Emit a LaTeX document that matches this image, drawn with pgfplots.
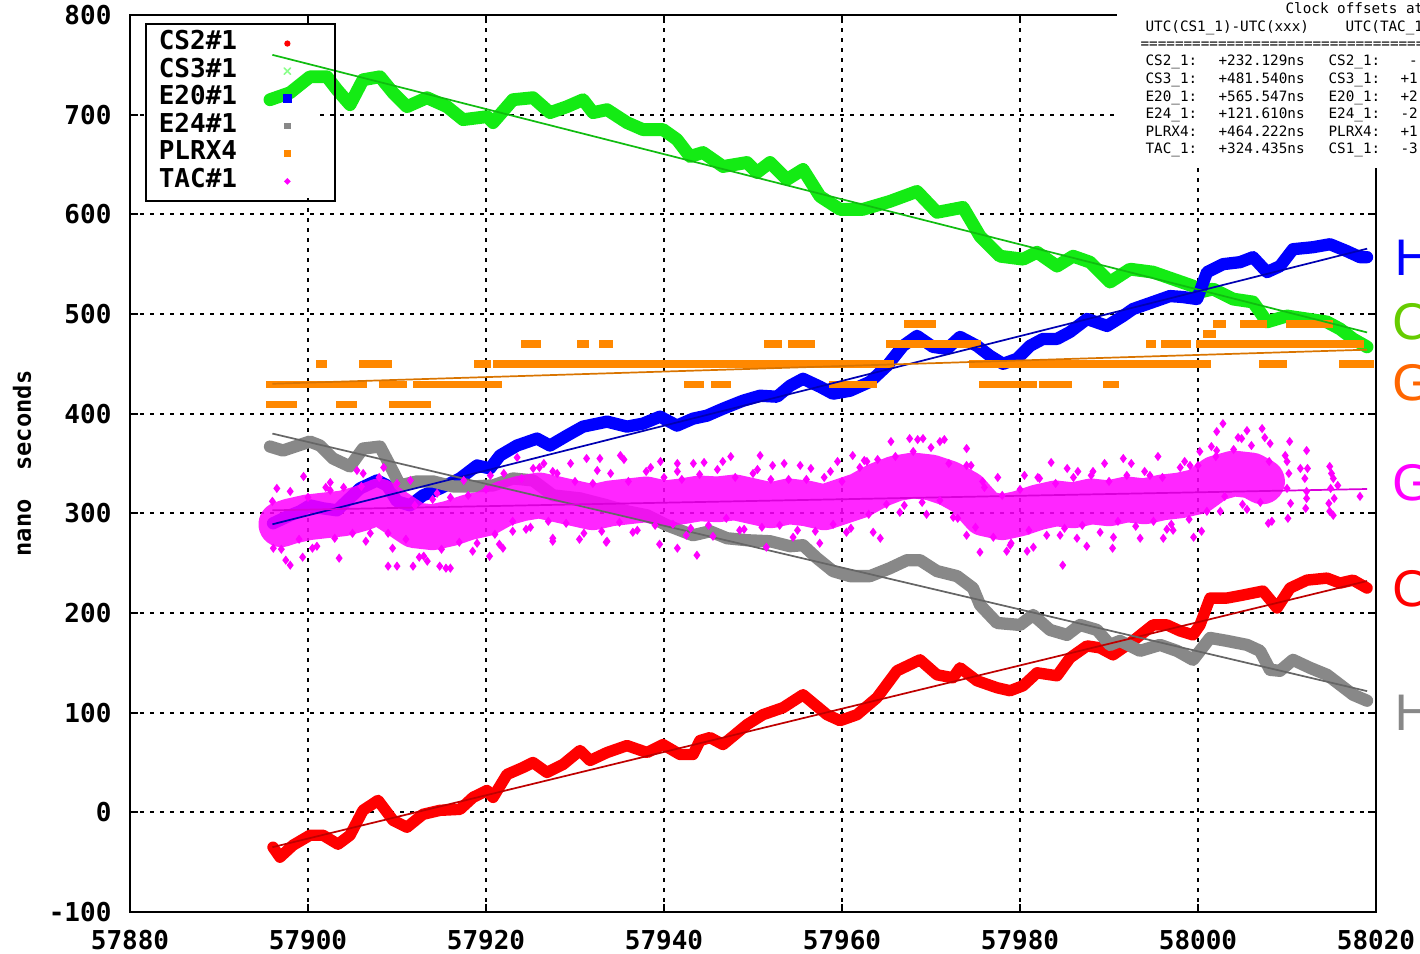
\documentclass[border=0pt]{standalone}
\usepackage{fontspec}
\usepackage{pgfplots}
\pgfplotsset{compat=1.18}
\setmonofont{DejaVu Sans Mono}
\newfontfamily\letterfont{DejaVu Sans}
\newcommand\tickfont{\fontsize{9.1pt}{10pt}\selectfont\ttfamily\bfseries}
\newcommand\ylabfont{\fontsize{8.3pt}{9pt}\selectfont\ttfamily\bfseries}
\newcommand\tabfont{\fontsize{5pt}{6pt}\selectfont\ttfamily}
\definecolor{cred}{RGB}{255,0,0}
\definecolor{cgreen}{RGB}{20,235,20}
\definecolor{cblue}{RGB}{0,0,255}
\definecolor{cgray}{RGB}{136,136,136}
\definecolor{corange}{RGB}{255,136,0}
\definecolor{cmag}{RGB}{255,0,255}
\definecolor{lgreen}{RGB}{102,204,0}
\definecolor{lorange}{RGB}{255,102,0}
\begin{document}
\begin{tikzpicture}
\begin{axis}[
  at={(45.5pt,14.7pt)}, anchor=south west,
  scale only axis, width=436.1pt, height=313.95pt,
  xmin=57880, xmax=58020, ymin=-100, ymax=800,
  xtick={57880,57900,57920,57940,57960,57980,58000,58020},
  xticklabels={57880,57900,57920,57940,57960,57980,58000,58020},
  ytick={-100,0,100,200,300,400,500,600,700,800},
  yticklabels={-100,0,100,200,300,400,500,600,700,800},
  ticklabel style={font=\tickfont, inner sep=0pt},
  xticklabel style={anchor=north, yshift=-6pt},
  yticklabel style={anchor=east, xshift=-6.3pt},
  tick align=inside, major tick length=2.8pt,
  tick style={black, line width=0.7pt},
  axis line style={black, line width=0.8pt},
  grid=major,
  major grid style={black, line width=0.7pt, dash pattern=on 1.3pt off 2.2pt},
  ylabel={nano~~seconds},
  ylabel style={at={(axis description cs:-0.0867,0.5)}, anchor=center, font=\ylabfont},
  unbounded coords=jump,
  legend style={at={(axis description cs:0.012,0.991)}, anchor=north west, draw=black, line width=0.7pt, fill=none, font=\tickfont, inner xsep=4.5pt, inner ysep=2pt, row sep=0pt, nodes={inner sep=0pt, text height=6.9pt, text depth=2.75pt}},
  legend cell align=left, legend plot pos=right,
]
\fill[white] (rel axis cs:0.012,0.991) rectangle (rel axis cs:0.152,0.796);

% CS2#1
\addplot[cred, line width=4pt, line join=round, line cap=round,
  legend image code/.code={\path[draw=none,fill=none] (-2pt,-1pt) rectangle (12pt,1pt); \fill[draw=none,cred] (0,0) circle (1.1pt);}]
coordinates {(57896.07,-35) (57896.85,-45) (57898.31,-33) (57900.22,-23) (57901.69,-23) (57903.37,-32) (57904.72,-23) (57906.18,2) (57907.87,12) (57909.55,-8) (57911.12,-15) (57912.92,-2) (57914.83,2) (57917.08,3) (57918.54,15) (57920.11,22) (57920.79,15) (57922.36,38) (57924.16,45) (57925.28,50) (57926.85,40) (57928.65,48) (57930.56,62) (57931.69,52) (57933.60,60) (57935.84,67) (57938.09,60) (57939.89,68) (57941.80,58) (57943.26,58) (57944.04,72) (57945.17,75) (57946.63,68) (57949.33,88) (57951.12,98) (57953.37,105) (57955.62,118) (57958.31,98) (57959.78,92) (57961.69,98) (57963.93,115) (57966.18,142) (57968.76,153) (57970.67,138) (57972.47,135) (57973.26,145) (57975.17,132) (57977.42,125) (57978.88,122) (57980.34,127) (57981.91,140) (57984.16,137) (57985.62,155) (57987.53,167) (57988.99,165) (57990.45,158) (57992.70,172) (57994.94,188) (57996.52,188) (57997.98,182) (57999.44,178) (58000.22,188) (58001.35,215) (58003.26,215) (58005.06,218) (58007.30,222) (58008.88,205) (58010.34,225) (58012.25,233) (58014.49,235) (58015.96,230) (58017.42,233) (58018.99,225)};
\addlegendentry{\makebox[43pt][l]{CS2\#1}}

% CS3#1
\addplot[cgreen, line width=4.5pt, line join=round, line cap=round,
  legend image code/.code={\path[draw=none,fill=none] (-2pt,-1pt) rectangle (12pt,1pt); \draw[green!45!white, line width=0.6pt] (-1.1pt,-1.1pt)--(1.1pt,1.1pt) (-1.1pt,1.1pt)--(1.1pt,-1.1pt);}]
coordinates {(57895.73,715) (57897.98,722) (57900.22,738) (57902.13,738) (57903.26,725) (57904.72,710) (57906.18,735) (57908.09,738) (57909.55,722) (57911.12,708) (57913.37,717) (57915.62,708) (57917.42,695) (57920.11,698) (57920.79,692) (57923.03,715) (57925.28,717) (57927.19,702) (57929.10,708) (57930.90,715) (57932.02,702) (57933.60,705) (57935.84,692) (57937.64,685) (57939.89,685) (57941.46,675) (57942.92,658) (57944.38,662) (57946.63,648) (57949.33,652) (57950.45,642) (57951.91,652) (57953.82,635) (57955.62,645) (57957.53,618) (57959.78,605) (57962.36,605) (57965.39,613) (57968.43,623) (57970.67,602) (57973.60,607) (57975.51,578) (57977.75,558) (57980.34,555) (57981.91,562) (57984.16,548) (57985.96,558) (57987.87,552) (57990.11,532) (57992.36,545) (57994.94,542) (57997.19,535) (57999.44,528) (58000.22,522) (58001.69,525) (58003.93,515) (58006.18,512) (58007.75,492) (58010.00,498) (58012.25,495) (58014.49,492) (58015.96,485) (58017.42,475) (58018.99,467)};
\addlegendentry{\makebox[43pt][l]{CS3\#1}}

% E20#1
\addplot[cblue, line width=4.3pt, line join=round, line cap=round,
  legend image code/.code={\path[draw=none,fill=none] (-2pt,-1pt) rectangle (12pt,1pt); \fill[draw=none,cblue] (-1.5pt,-1.5pt) rectangle (1.5pt,1.5pt);}]
coordinates {(57896.07,290) (57897.98,298) (57899.10,302) (57900.22,308) (57901.69,305) (57903.26,303) (57905.84,325) (57907.75,333) (57908.88,328) (57910.00,312) (57911.46,308) (57912.92,318) (57914.83,325) (57917.08,335) (57918.99,348) (57920.45,345) (57921.57,358) (57923.48,368) (57925.73,375) (57927.19,368) (57929.10,378) (57930.90,387) (57933.60,392) (57935.84,387) (57937.64,390) (57939.55,397) (57941.46,388) (57943.26,395) (57944.83,398) (57946.63,405) (57948.88,413) (57950.79,418) (57952.70,417) (57954.16,428) (57955.62,435) (57957.53,427) (57958.99,420) (57960.90,423) (57963.15,432) (57965.06,448) (57966.85,468) (57968.43,478) (57970.22,467) (57971.80,465) (57973.26,477) (57975.17,468) (57976.63,458) (57978.09,450) (57979.66,455) (57981.12,468) (57982.58,475) (57984.16,475) (57985.62,482) (57987.53,495) (57989.78,488) (57991.57,498) (57992.70,505) (57994.94,512) (57996.85,518) (57998.31,517) (57999.89,515) (58001.01,542) (58002.81,550) (58004.72,552) (58006.18,557) (58007.75,542) (58009.21,548) (58010.67,565) (58012.92,567) (58014.83,570) (58016.74,563) (58018.20,557) (58018.99,557)};
\addlegendentry{\makebox[43pt][l]{E20\#1}}

% E24#1
\addplot[cgray, line width=4.3pt, line join=round, line cap=round,
  legend image code/.code={\path[draw=none,fill=none] (-2pt,-1pt) rectangle (12pt,1pt); \fill[draw=none,cgray] (-1.1pt,-1.1pt) rectangle (1.1pt,1.1pt);}]
coordinates {(57895.73,367) (57897.19,363) (57900.22,372) (57901.35,368) (57902.81,355) (57904.72,347) (57906.18,365) (57908.09,367) (57909.21,348) (57910.34,328) (57912.25,332) (57914.04,332) (57916.29,327) (57918.54,327) (57920.79,328) (57923.03,335) (57925.28,333) (57927.53,318) (57930.56,315) (57933.60,308) (57935.84,302) (57938.09,298) (57940.34,288) (57943.26,278) (57945.17,282) (57947.08,275) (57949.33,273) (57951.91,272) (57954.16,267) (57955.62,268) (57957.19,255) (57958.99,242) (57960.90,237) (57963.15,237) (57965.39,245) (57967.30,253) (57968.76,253) (57970.67,242) (57972.92,237) (57974.72,225) (57975.51,208) (57977.42,190) (57980.00,188) (57981.46,198) (57983.37,183) (57985.28,178) (57986.74,188) (57988.65,183) (57990.11,168) (57991.24,172) (57993.48,162) (57995.73,168) (57997.64,162) (57999.44,153) (58001.35,175) (58003.26,172) (58005.51,168) (58006.97,162) (58008.09,143) (58009.21,142) (58010.67,153) (58012.58,145) (58014.49,138) (58015.96,128) (58017.42,118) (58018.99,112)};
\addlegendentry{\makebox[43pt][l]{E24\#1}}

% PLRX4
\addplot[corange, line width=2.6pt, line cap=rect,
  legend image code/.code={\path[draw=none,fill=none] (-2pt,-1pt) rectangle (12pt,1pt); \fill[draw=none,corange] (-1.2pt,-1.2pt) rectangle (1.2pt,1.2pt);}]
coordinates {(57895.73,429)(57906.18,429)(57906.2,nan)
(57908.40,429)(57910.70,429)(57910.8,nan)
(57912.25,429)(57921.35,429)(57921.4,nan)
(57942.70,429)(57944.04,429)(57944.1,nan)
(57945.70,429)(57947.08,429)(57947.1,nan)
(57958.99,429)(57963.50,429)(57963.6,nan)
(57975.80,429)(57981.46,429)(57981.5,nan)
(57982.58,429)(57985.40,429)(57985.5,nan)
(57989.78,429)(57990.70,429)(57990.8,nan)
(57895.73,409)(57898.31,409)(57898.4,nan)
(57903.60,409)(57905.10,409)(57905.2,nan)
(57909.55,409)(57913.37,409)(57913.4,nan)
(57901.35,450)(57901.69,450)(57901.7,nan)
(57906.10,450)(57909.00,450)(57909.1,nan)
(57919.10,450)(57920.11,450)(57920.2,nan)
(57921.20,450)(57965.39,450)(57965.4,nan)
(57974.72,450)(58001.01,450)(58001.1,nan)
(58007.30,450)(58009.60,450)(58009.7,nan)
(58016.30,450)(58019.30,450)(58019.4,nan)
(57924.40,470)(57925.80,470)(57925.9,nan)
(57930.60,470)(57931.10,470)(57931.2,nan)
(57933.10,470)(57933.90,470)(57934.0,nan)
(57951.60,470)(57952.80,470)(57952.9,nan)
(57954.40,470)(57956.60,470)(57956.7,nan)
(57965.39,470)(57975.17,470)(57975.2,nan)
(57994.60,470)(57994.90,470)(57995.0,nan)
(57996.30,470)(57998.80,470)(57998.9,nan)
(58000.22,470)(58018.20,470)(58018.3,nan)
(57967.40,490)(57970.10,490)(57970.2,nan)
(58002.10,490)(58002.70,490)(58002.8,nan)
(58005.10,490)(58007.30,490)(58007.4,nan)
(58010.30,490)(58014.80,490)(58014.9,nan)
(58001.00,480)(58001.60,480)};
\addlegendentry{\makebox[43pt][l]{PLRX4}}

% TAC#1 core
\addplot[cmag, line width=16pt, line join=round, line cap=round, opacity=0.85, forget plot]
coordinates {(57897,289) (57898,292) (57900,296) (57902,298) (57904,300) (57906,305) (57908,312) (57910,300) (57912,288) (57914,286) (57916,290) (57918,296) (57920,300) (57922,310) (57924,315) (57926,318) (57928,314) (57930,310) (57932,306) (57934,310) (57936,312) (57938,314) (57940,310) (57942,312) (57944,315) (57946,314) (57948,316) (57950,312) (57952,308) (57954,312) (57956,310) (57958,306) (57960,312) (57962,318) (57964,328) (57966,335) (57968,338) (57970,336) (57972,330) (57974,320) (57976,300) (57978,296) (57980,300) (57982,306) (57984,310) (57986,308) (57988,312) (57990,310) (57992,314) (57994,312) (57996,316) (57998,318) (58000,322) (58002,335) (58004,340) (58006,338) (58007.2,332)};
% TAC#1 scatter
\addplot[cmag, only marks, mark=diamond*, mark size=1.3pt,
  legend image code/.code={\path[draw=none,fill=none] (-2pt,-1pt) rectangle (12pt,1pt); \fill[draw=none,cmag] (0,-1.2pt)--(1.2pt,0)--(0,1.2pt)--(-1.2pt,0)--cycle;}]
coordinates {(57896.1,265)(57898.0,248)(57899.4,256)(57902.5,323)(57906.2,340)(57909.0,247)(57910.0,247)(57911.8,247)(57913.4,252)(57914.8,247)(57916.0,245)(57920.4,257)(57921.9,265)(57925.3,345)(57927.5,342)(57931.3,355)(57932.8,355)(57935.1,358)(57939.6,352)(57941.5,342)(57943.3,350)(57941.5,265)(57943.7,258)(57933.6,272)(57927.5,275)(57923.0,282)
(57946.6,352)(57950.8,358)(57952.2,348)(57955.3,348)(57958.7,342)(57961.2,358)(57962.8,352)(57964.3,275)(57967.6,375)(57969.1,375)(57971.0,372)(57974.0,365)(57974.0,278)(57975.8,332)(57978.9,268)(57980.8,262)(57982.2,335)(57984.8,248)(57985.3,345)(57988.2,342)(57990.4,265)(57991.6,355)(57986.4,275)
(57996.1,275)(57997.2,283)(57994.6,338)(57999.1,348)(58000.2,362)(58000.4,282)(58002.1,382)(58002.8,390)(58002.1,363)(58004.9,375)(58005.5,383)(58007.2,385)(58008.1,370)(58007.9,290)(58009.8,358)(58010.3,372)(58010.1,295)(58012.2,363)(58011.5,345)(58012.2,322)(58014.8,347)(58015.2,335)(58014.8,302)(58015.2,298)(58015.7,328)(58018.2,317)(58010.0,325)(58012.2,315)
(58010.2,340)(58010.4,310)(58010.0,352)(58012.0,335)(58012.3,345)(58012.1,305)(58014.9,325)(58015.0,340)(58015.3,315)(58014.7,310)
(57896,312)(57898,322)(57900,316)(57902,326)(57904,326)(57906,327)(57908,336)(57910,330)(57912,308)(57914,314)(57916,316)(57918,318)(57920,324)(57922,340)(57924,335)(57926,346)(57928,340)(57930,332)(57932,330)(57934,340)(57936,332)(57938,342)(57940,336)(57942,334)(57944,339)(57946,344)(57948,336)(57950,340)(57952,334)(57954,334)(57956,334)(57958,336)(57960,332)(57962,346)(57964,354)(57966,357)(57968,362)(57970,366)(57972,350)(57974,348)(57976,326)(57978,318)(57980,324)(57982,336)(57984,330)(57986,336)(57988,338)(57990,332)(57992,338)(57994,342)(57996,336)(57998,346)(58000,348)(58002,357)(58004,364)(58006,368)(58008,352)
(57897,264)(57899,274)(57901,267)(57903,275)(57905,280)(57907,280)(57909,280)(57911,274)(57913,257)(57915,264)(57917,271)(57919,270)(57921,279)(57923,292)(57925,286)(57927,292)(57929,290)(57931,280)(57933,282)(57935,291)(57937,283)(57939,288)(57941,289)(57943,285)(57945,288)(57947,295)(57949,284)(57951,286)(57953,288)(57955,283)(57957,282)(57959,289)(57961,285)(57963,299)(57965,309)(57967,308)(57969,311)(57971,313)(57973,295)(57975,286)(57977,276)(57979,270)(57981,283)(57983,278)(57985,285)(57987,288)(57989,281)(57991,292)(57993,287)(57995,292)(57997,289)(57999,294)(58001,302)(58003,317)(58005,309)(58007,311)
(57896.5,325)(57899.5,337)(57902.5,331)(57905.5,343)(57908.5,346)(57911.5,333)(57914.5,320)(57917.5,333)(57920.5,338)(57923.5,356)(57926.5,350)(57929.5,350)(57932.5,343)(57935.5,354)(57938.5,346)(57941.5,350)(57944.5,351)(57947.5,357)(57950.5,344)(57953.5,350)(57956.5,345)(57959.5,352)(57962.5,353)(57965.5,372)(57968.5,374)(57971.5,374)(57974.5,348)(57977.5,336)(57980.5,338)(57983.5,351)(57986.5,342)(57989.5,350)(57992.5,350)(57995.5,357)(57998.5,352)(58001.5,367)(58004.5,376)(58007.5,376)
(57897.5,253)(57900.5,265)(57903.5,255)(57906.5,272)(57909.5,265)(57912.5,256)(57915.5,245)(57918.5,262)(57921.5,269)(57924.5,284)(57927.5,272)(57930.5,274)(57933.5,271)(57936.5,281)(57939.5,269)(57942.5,278)(57945.5,277)(57948.5,283)(57951.5,266)(57954.5,276)(57957.5,270)(57960.5,281)(57963.5,281)(57966.5,301)(57969.5,299)(57972.5,296)(57975.5,261)(57978.5,262)(57981.5,266)(57984.5,278)(57987.5,267)(57990.5,276)(57993.5,275)(57996.5,284)(57999.5,276)(58002.5,302)(58005.5,304)(58008.3,292)};
\addlegendentry{\makebox[43pt][l]{TAC\#1}}

% linear fits
\addplot[cred!75!black, line width=0.6pt, forget plot] coordinates {(57896,-35) (58019,232.1)};
\addplot[cgreen!80!black, line width=0.6pt, forget plot] coordinates {(57896,760) (58019,481.5)};
\addplot[cblue!70!black, line width=0.6pt, forget plot] coordinates {(57896,289) (58019,565.5)};
\addplot[cgray!75!black, line width=0.6pt, forget plot] coordinates {(57896,380) (58019,121.6)};
\addplot[corange!85!black, line width=0.6pt, forget plot] coordinates {(57896,430) (58019,464.2)};
\addplot[cmag!85!black, line width=0.6pt, forget plot] coordinates {(57896,303) (58019,324.4)};
\end{axis}

\begin{scope}[shift={(0pt,333.9pt)}, x=0.35pt, y=-0.35pt]
\fill[white] (1117,-3) rectangle (1430,168);
\node[anchor=base west, inner sep=0pt, font=\tabfont] at (1285,14) {Clock offsets at};
\node[anchor=base west, inner sep=0pt, font=\tabfont] at (1145,32) {UTC(CS1\_1)-UTC(xxx)};
\node[anchor=base west, inner sep=0pt, font=\tabfont] at (1345,32) {UTC(TAC\_1};
\node[anchor=base west, inner sep=0pt, font=\tabfont] at (1140,49) {==================================};
\foreach \n/\v/\m/\w [count=\i] in {CS2\_1:/+232.129ns/CS2\_1:/{\hspace{3pt}-},CS3\_1:/+481.540ns/CS3\_1:/+1,E20\_1:/+565.547ns/E20\_1:/+2,E24\_1:/+121.610ns/E24\_1:/-2,PLRX4:/+464.222ns/PLRX4:/+1,TAC\_1:/+324.435ns/CS1\_1:/-3}{
  \pgfmathsetmacro{\yy}{66+(\i-1)*17.6}
  \node[anchor=base west, inner sep=0pt, font=\tabfont] at (1145,\yy) {\n};
  \node[anchor=base west, inner sep=0pt, font=\tabfont] at (1218,\yy) {\v};
  \node[anchor=base west, inner sep=0pt, font=\tabfont] at (1328,\yy) {\m};
  \node[anchor=base west, inner sep=0pt, font=\tabfont] at (1400,\yy) {\w};
}
\node[anchor=base west, inner sep=0pt, font=\letterfont\fontsize{17pt}{20pt}\selectfont, text=cblue] at (1394,276) {H};
\node[anchor=base west, inner sep=0pt, font=\letterfont\fontsize{17pt}{20pt}\selectfont, text=lgreen] at (1392,340) {C};
\node[anchor=base west, inner sep=0pt, font=\letterfont\fontsize{17pt}{20pt}\selectfont, text=lorange] at (1392,401) {G};
\node[anchor=base west, inner sep=0pt, font=\letterfont\fontsize{17pt}{20pt}\selectfont, text=cmag] at (1392,501) {G};
\node[anchor=base west, inner sep=0pt, font=\letterfont\fontsize{17pt}{20pt}\selectfont, text=cred] at (1392,606) {C};
\node[anchor=base west, inner sep=0pt, font=\letterfont\fontsize{17pt}{20pt}\selectfont, text=cgray] at (1394,730) {H};
\end{scope}
\pgfresetboundingbox
\useasboundingbox (0,0) rectangle (497pt,333.9pt);
\end{tikzpicture}
\end{document}
